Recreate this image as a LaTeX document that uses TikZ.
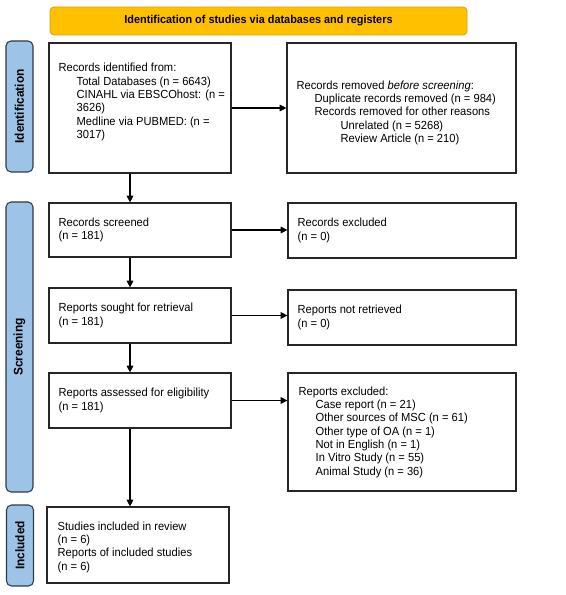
\documentclass[tikz,border=0pt]{standalone}
\usepackage{fontspec}
\setmainfont{Liberation Sans}[FakeStretch=0.95]
\usetikzlibrary{arrows.meta,positioning}
\definecolor{bannerfill}{HTML}{FFC000}
\definecolor{bannerdraw}{HTML}{D9A000}
\definecolor{sidefill}{HTML}{9DC3E6}
\definecolor{sidedraw}{HTML}{2F3B48}
\begin{document}
\begin{tikzpicture}[x=0.75pt,y=-0.75pt,
  pbox/.style={draw=black!85, line width=0.9pt, fill=white, inner sep=0pt},
  txt/.style={anchor=west, align=left, inner sep=0pt, font=\fontsize{8.8}{10}\selectfont},
  banner/.style={draw=bannerdraw, line width=0.6pt, fill=bannerfill, rounded corners=3pt,
    minimum width=312.75pt, minimum height=21pt, inner sep=0pt,
    font=\bfseries\fontsize{8.6}{10}\selectfont},
  side/.style={draw=sidedraw, line width=0.8pt, fill=sidefill, rounded corners=3.75pt,
    minimum height=20.25pt, inner sep=0pt, rotate=90,
    font=\bfseries\fontsize{9.4}{10}\selectfont},
  arr/.style={-{Triangle[length=5pt,width=5pt]}, line width=0.8pt, draw=black}
]
\useasboundingbox (0,0) rectangle (566,595);

% banner
\node[banner] (ban) at (258.5,21) {Identification of studies via databases and registers};

% side labels
\node[side, minimum width=98.25pt] (sid1) at (19.5,106.5) {Identification};
\node[side, minimum width=217.5pt] (sid2) at (19.5,347) {Screening};
\node[side, minimum width=60.75pt] (sid3) at (20,545.5) {Included};

% boxes
\node[pbox, minimum width=136.5pt, minimum height=97.5pt] (b1) at (140,108) {};
\node[pbox, minimum width=171.75pt, minimum height=97.5pt] (b2) at (401.5,108) {};
\node[pbox, minimum width=136.5pt, minimum height=40.5pt] (b3) at (140,230) {};
\node[pbox, minimum width=171pt, minimum height=41.25pt] (b4) at (402,230.5) {};
\node[pbox, minimum width=136.5pt, minimum height=41.25pt] (b5) at (140,315.5) {};
\node[pbox, minimum width=171pt, minimum height=41.25pt] (b6) at (402,317.5) {};
\node[pbox, minimum width=136.5pt, minimum height=41.25pt] (b7) at (140,400.5) {};
\node[pbox, minimum width=171pt, minimum height=88.5pt] (b8) at (402,432) {};
\node[pbox, minimum width=136.5pt, minimum height=57pt] (b9) at (138,545) {};

% texts
\node[txt] (t1) at ([xshift=7.5pt,yshift=4.5pt]b1.west) {Records identified from:\\
\hspace*{13.5pt}Total Databases (n = 6643)\\
\hspace*{13.5pt}CINAHL via EBSCOhost: (n =\\
\hspace*{13.5pt}3626)\\
\hspace*{13.5pt}Medline via PUBMED: (n =\\
\hspace*{13.5pt}3017)};
\node[txt] (t2) at ([xshift=7.5pt,yshift=-3.5pt]b2.west) {Records removed \textit{before screening}:\\
\hspace*{13.5pt}Duplicate records removed (n = 984)\\
\hspace*{13.5pt}Records removed for other reasons\\
\hspace*{33pt}Unrelated (n = 5268)\\
\hspace*{33pt}Review Article (n = 210)};
\node[txt] (t3) at ([xshift=7.5pt]b3.west) {Records screened\\(n = 181)};
\node[txt] (t4) at ([xshift=7.5pt]b4.west) {Records excluded\\(n = 0)};
\node[txt] (t5) at ([xshift=7.5pt]b5.west) {Reports sought for retrieval\\(n = 181)};
\node[txt] (t6) at ([xshift=7.5pt]b6.west) {Reports not retrieved\\(n = 0)};
\node[txt] (t7) at ([xshift=7.5pt]b7.west) {Reports assessed for eligibility\\(n = 181)};
\node[txt] (t8) at ([xshift=8.25pt]b8.west) {Reports excluded:\\
\hspace*{12.75pt}Case report (n = 21)\\
\hspace*{12.75pt}Other sources of MSC (n = 61)\\
\hspace*{12.75pt}Other type of OA (n = 1)\\
\hspace*{12.75pt}Not in English (n = 1)\\
\hspace*{12.75pt}In Vitro Study (n = 55)\\
\hspace*{12.75pt}Animal Study (n = 36)};
\node[txt] (t9) at ([xshift=8.25pt,yshift=-1.5pt]b9.west) {Studies included in review\\(n = 6)\\Reports of included studies\\(n = 6)};

% connectors
\coordinate (vx) at (130,0);
\draw[arr] (b1.east) -- (b2.west);
\draw[arr] (b3.east) -- (b3.east -| b4.west);
\draw[arr] (b5.east) -- (b5.east -| b6.west);
\draw[arr] (b7.east) -- (b7.east -| b8.west);
\draw[arr] (b1.south -| vx) -- (b3.north -| vx);
\draw[arr] (b3.south -| vx) -- (b5.north -| vx);
\draw[arr] (b5.south -| vx) -- (b7.north -| vx);
\draw[arr] (b7.south -| vx) -- (b9.north -| vx);
\end{tikzpicture}
\end{document}
